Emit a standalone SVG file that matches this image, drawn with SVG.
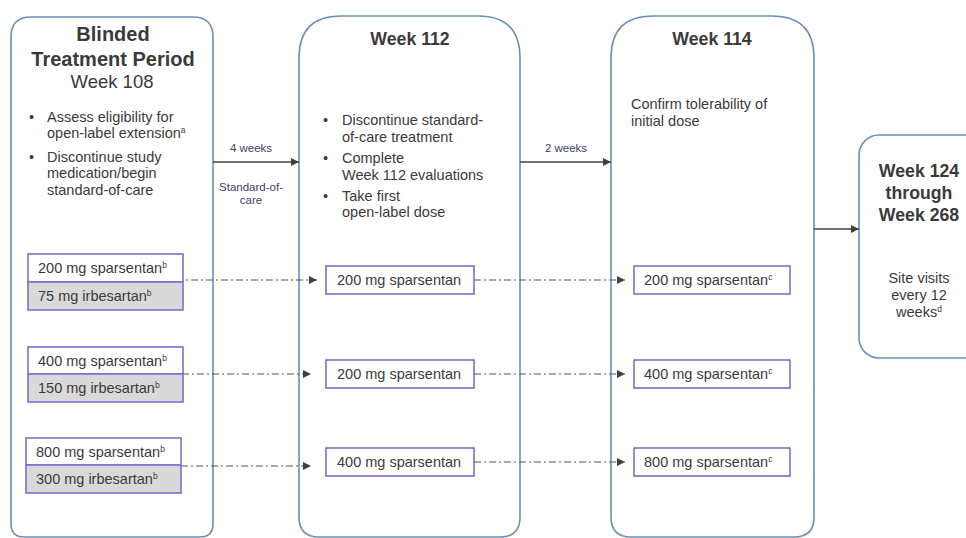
<svg xmlns="http://www.w3.org/2000/svg" width="966" height="538" viewBox="0 0 966 538">
<defs>
<marker id="ah" viewBox="0 0 10 10" refX="10" refY="5" markerWidth="8" markerHeight="8" markerUnits="userSpaceOnUse" orient="auto"><path d="M0,0 L10,5 L0,10 z" fill="#404040"/></marker>
<style>
text{font-family:"Liberation Sans",Arial,sans-serif;fill:#3a3a3a}
.phase{fill:#fff;stroke:#6d8fb3;stroke-width:1.6}
.dose{fill:#fff;stroke:#7b6fcf;stroke-width:1.6}
.gray{fill:#d9d9d9;stroke:#7b6fcf;stroke-width:1.6}
.t{font-size:20px;font-weight:bold;text-anchor:middle}
.h{font-size:17.7px;font-weight:bold;text-anchor:middle}
.b{font-size:14.5px}
.d{font-size:14.5px}
.lab{font-size:11.5px;fill:#40406a;text-anchor:middle}
.solid{stroke:#404040;stroke-width:1.3;fill:none}
.dash{stroke:#555;stroke-width:1.2;fill:none;stroke-dasharray:7 3 2 3}
.sup{font-size:8.5px}
</style>
</defs>

<g id="week108">
<path class="phase" d="M11,37 Q11,17 31,17 L193,17 Q213,17 213,37 L213,524 Q213,537 200,537 L24,537 Q11,537 11,524 Z"/>
<text class="t" x="113" y="41">Blinded</text>
<text class="t" x="113" y="66">Treatment Period</text>
<text x="112" y="88" style="font-size:18.5px;text-anchor:middle">Week 108</text>
<text class="b" x="29" y="122">•</text>
<text class="b" x="47" y="122">Assess eligibility for</text>
<text class="b" x="47" y="138">open-label extension<tspan class="sup" dy="-5">a</tspan></text>
<text class="b" x="29" y="162">•</text>
<text class="b" x="47" y="162">Discontinue study</text>
<text class="b" x="47" y="178">medication/begin</text>
<text class="b" x="47" y="195">standard-of-care</text>
</g>

<g id="week112">
<path class="phase" d="M299,58 Q299,16 341,16 L478,16 Q520,16 520,58 L520,517 Q520,537 500,537 L319,537 Q299,537 299,517 Z"/>
<text class="h" x="410" y="45">Week 112</text>
<text class="b" x="323" y="125">•</text>
<text class="b" x="342" y="125">Discontinue standard-</text>
<text class="b" x="342" y="142">of-care treatment</text>
<text class="b" x="323" y="163">•</text>
<text class="b" x="342" y="163">Complete</text>
<text class="b" x="342" y="180">Week 112 evaluations</text>
<text class="b" x="323" y="201">•</text>
<text class="b" x="342" y="201">Take first</text>
<text class="b" x="342" y="217">open-label dose</text>
</g>

<g id="week114">
<path class="phase" d="M611,58 Q611,16 653,16 L772,16 Q814,16 814,58 L814,517 Q814,537 794,537 L631,537 Q611,537 611,517 Z"/>
<text class="h" x="712" y="45">Week 114</text>
<text class="b" x="631" y="109">Confirm tolerability of</text>
<text class="b" x="631" y="126">initial dose</text>
</g>

<g id="week124">
<rect class="phase" x="859" y="135" width="130" height="223" rx="20" ry="20"/>
<text class="h" x="919" y="177">Week 124</text>
<text class="h" x="919" y="199">through</text>
<text class="h" x="919" y="221">Week 268</text>
<text x="919" y="283" style="font-size:14.5px;text-anchor:middle">Site visits</text>
<text x="919" y="300" style="font-size:14.5px;text-anchor:middle">every 12</text>
<text x="919" y="317" style="font-size:14.5px;text-anchor:middle">weeks<tspan class="sup" dy="-5">d</tspan></text>
</g>

<g id="connectors">
<line class="solid" x1="213" y1="162" x2="299" y2="162" marker-end="url(#ah)"/>
<line class="solid" x1="520" y1="162" x2="611" y2="162" marker-end="url(#ah)"/>
<line class="solid" x1="814" y1="229" x2="859" y2="229" marker-end="url(#ah)"/>
<line class="dash" x1="176" y1="280" x2="317" y2="280" marker-end="url(#ah)"/>
<line class="dash" x1="182" y1="374" x2="311" y2="374" marker-end="url(#ah)"/>
<line class="dash" x1="181" y1="466" x2="311" y2="466" marker-end="url(#ah)"/>
<line class="dash" x1="474" y1="280" x2="625" y2="280" marker-end="url(#ah)"/>
<line class="dash" x1="474" y1="374" x2="625" y2="374" marker-end="url(#ah)"/>
<line class="dash" x1="474" y1="462" x2="625" y2="462" marker-end="url(#ah)"/>
<text class="lab" x="251" y="152">4 weeks</text>
<text class="lab" x="251" y="191">Standard-of-</text>
<text class="lab" x="251" y="204">care</text>
<text class="lab" x="566" y="152">2 weeks</text>
</g>

<g id="dose-left-1">
<rect class="dose" x="28" y="254" width="155" height="28"/>
<rect class="gray" x="28" y="282" width="155" height="28"/>
<text class="d" x="38" y="273">200 mg sparsentan<tspan class="sup" dy="-5">b</tspan></text>
<text class="d" x="38" y="301">75 mg irbesartan<tspan class="sup" dy="-5">b</tspan></text>
</g>
<g id="dose-left-2">
<rect class="dose" x="28" y="347" width="155" height="27"/>
<rect class="gray" x="28" y="374" width="155" height="28"/>
<text class="d" x="38" y="366">400 mg sparsentan<tspan class="sup" dy="-5">b</tspan></text>
<text class="d" x="38" y="393">150 mg irbesartan<tspan class="sup" dy="-5">b</tspan></text>
</g>
<g id="dose-left-3">
<rect class="dose" x="26" y="438" width="155" height="27"/>
<rect class="gray" x="26" y="465" width="155" height="28"/>
<text class="d" x="36" y="457">800 mg sparsentan<tspan class="sup" dy="-5">b</tspan></text>
<text class="d" x="36" y="484">300 mg irbesartan<tspan class="sup" dy="-5">b</tspan></text>
</g>

<g id="dose-mid-1">
<rect class="dose" x="326" y="266" width="148" height="28"/>
<text class="d" x="337" y="285">200 mg sparsentan</text>
</g>
<g id="dose-mid-2">
<rect class="dose" x="326" y="360" width="148" height="28"/>
<text class="d" x="337" y="379">200 mg sparsentan</text>
</g>
<g id="dose-mid-3">
<rect class="dose" x="326" y="448" width="148" height="28"/>
<text class="d" x="337" y="467">400 mg sparsentan</text>
</g>

<g id="dose-right-1">
<rect class="dose" x="634" y="266" width="156" height="28"/>
<text class="d" x="644" y="285">200 mg sparsentan<tspan class="sup" dy="-5">c</tspan></text>
</g>
<g id="dose-right-2">
<rect class="dose" x="634" y="360" width="156" height="28"/>
<text class="d" x="644" y="379">400 mg sparsentan<tspan class="sup" dy="-5">c</tspan></text>
</g>
<g id="dose-right-3">
<rect class="dose" x="634" y="448" width="156" height="28"/>
<text class="d" x="644" y="467">800 mg sparsentan<tspan class="sup" dy="-5">c</tspan></text>
</g>
</svg>
